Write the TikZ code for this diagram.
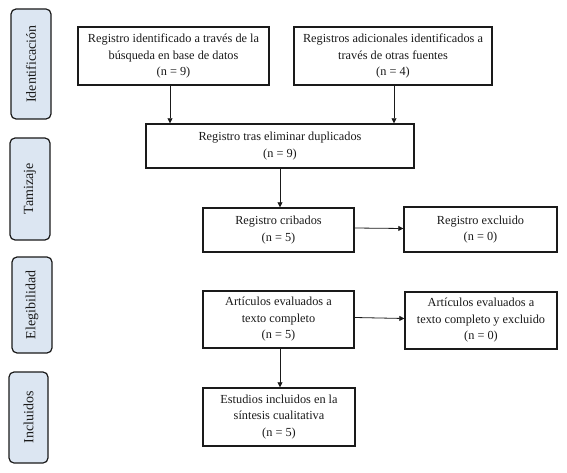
\documentclass[tikz,border=0pt]{standalone}
\usepackage{fontspec}
\setmainfont{Liberation Serif}
\usetikzlibrary{arrows.meta}
\definecolor{sidefill}{HTML}{DCE6F2}
\definecolor{ink}{HTML}{1A1A1A}
\tikzset{
  box/.style={draw=ink, line width=1.4pt, fill=white, align=center, inner sep=2pt,
    font=\fontsize{12.3}{16.5}\selectfont, text=ink},
  side/.style={draw=ink, line width=1.2pt, fill=sidefill, rounded corners=5pt,
    rotate=90, font=\fontsize{14}{16}\selectfont, text=ink, inner sep=0pt},
  arr/.style={draw=ink, line width=0.8pt, -{Triangle[length=5pt,width=5pt]}}
}
\begin{document}
\begin{tikzpicture}[x=1pt,y=-1pt]
\useasboundingbox (0,0) rectangle (567,473);
% side labels (width/height swapped due to rotation)
\node[side, minimum width=110pt, minimum height=40pt] (s1) at (31,64) {Identificación};
\node[side, minimum width=102pt, minimum height=40pt] (s2) at (30,189) {Tamizaje};
\node[side, minimum width=96pt, minimum height=40pt] (s3) at (32,305) {Elegibilidad};
\node[side, minimum width=91pt, minimum height=39pt] (s4) at (28.5,417.5) {Incluidos};
% boxes
\node[box, minimum width=191pt, minimum height=58pt] (b1) at (173.5,56)
  {Registro identificado a través de la\\búsqueda en base de datos\\(n = 9)};
\node[box, minimum width=198pt, minimum height=58pt] (b2) at (393,56)
  {Registros adicionales identificados a\\través de otras fuentes\\(n = 4)};
\node[box, minimum width=268pt, minimum height=44pt] (dup) at (280,146)
  {Registro tras eliminar duplicados\\(n = 9)};
\node[box, minimum width=151pt, minimum height=44pt] (crib) at (278.5,230)
  {Registro cribados\\(n = 5)};
\node[box, minimum width=153pt, minimum height=45pt] (excl) at (480.5,229.5)
  {Registro excluido\\(n = 0)};
\node[box, minimum width=151pt, minimum height=57pt] (art) at (278.5,319.5)
  {Artículos evaluados a\\texto completo\\(n = 5)};
\node[box, minimum width=152pt, minimum height=57pt] (artx) at (481,320.5)
  {Artículos evaluados a\\texto completo y excluido\\(n = 0)};
\node[box, minimum width=152pt, minimum height=58pt] (inc) at (279,417)
  {Estudios incluidos en la\\síntesis cualitativa\\(n = 5)};
% connectors
\coordinate (a1) at (170,85);
\coordinate (a2) at (394,85);
\draw[arr] (a1) -- (a1 |- dup.north);
\draw[arr] (a2) -- (a2 |- dup.north);
\coordinate (a3) at (280,168);
\draw[arr] (a3) -- (a3 |- crib.north);
\draw[arr] ([yshift=2pt]crib.east) -- ([yshift=1pt]excl.west);
\draw[arr] ([yshift=2pt]art.east) -- ([yshift=2pt]artx.west);
\coordinate (a4) at (280,348);
\draw[arr] (a4) -- (a4 |- inc.north);
\end{tikzpicture}
\end{document}
